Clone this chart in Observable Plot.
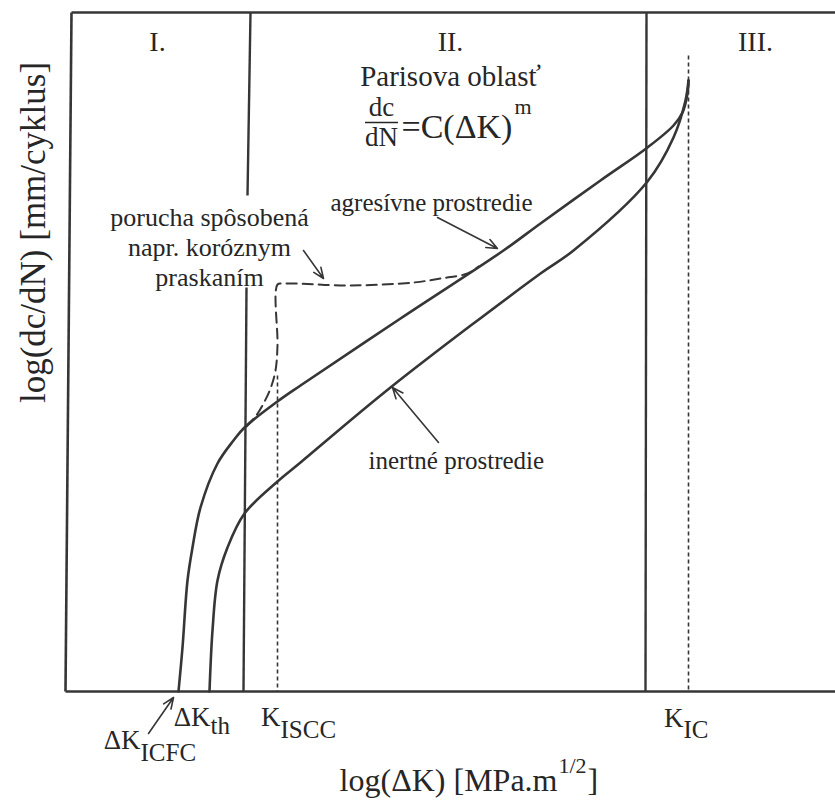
<!DOCTYPE html>
<html><head><meta charset="utf-8">
<script src="https://cdn.jsdelivr.net/npm/d3@7"></script>
<script src="https://cdn.jsdelivr.net/npm/@observablehq/plot@0.6"></script>
<style>html,body{margin:0;padding:0;background:#fff;} #chart svg{display:block}</style>
</head><body><div id="chart"></div>
<script>
// Schematic units: x = log(ΔK), y = log(dc/dN) (arbitrary units, origin at axes corner)
// Curve: agresívne prostredie
const aggrX = [110,114,119,124,132,149,165,176,209,232,332,435,472,532,579,605,614,619,620];
const aggrY = [0,44,111,144,184,228,251,264,290,306,373,441,468,511,544,566,579,598,611];
// Curve: inertné prostredie
const inertX = [141,144,149,159,176,209,232,322,472,505,579,605,617,620];
const inertY = [0,61,111,144,178,210,229,304,418,441,510,554,591,611];
// Dashed: porucha spôsobená koróznym praskaním
const corrX = [178,187,195,202,207,209,209,215,282,345,372,399,410];
const corrY = [265,275,288,303,321,346,407,408,406,409,413,418,425];

// Frame (axes box)
const frameX1 = [3,3,-3];
const frameY1 = [679,679,0];
const frameX2 = [767,-3,767];
const frameY2 = [679,0,0];
// Region boundaries (I/II, II/III)
const boundX1 = [182,178,578];
const boundY1 = [679,404,679];
const boundX2 = [179,175,577];
const boundY2 = [496,0,0];
// Characteristic values: K_ISCC, K_IC (dashed verticals)
const critX = [209,620];
const critTop = [316,636];

// Region labels
const regionLabels = ["I.","II.","III."];
const regionX = [89,382,687];
const regionY = [641,641,641];

// Tick labels (main part + subscript)
const tickMain = ["ΔK","ΔK","K","K"];
const tickSub = ["ICFC","th","ISCC","IC"];
const tickX = [72,142,212,615];
const tickY = [-57,-34,-34,-35];
const tickSubY = [-69,-42,-46,-46];

// Annotations
const noteText = ["agresívne prostredie","inertné prostredie"];
const noteX = [262,300];
const noteY = [481,223];
const poruchaLines = ["porucha spôsobená","napr. koróznym","praskaním"];
const poruchaX = [141,141,141];
const poruchaY = [466,436,406];

// Arrows: agresívne, porucha, inertné, ΔK_ICFC
const arrX1 = [369,235,370,80];
const arrY1 = [474,441,249,-42];
const arrX2 = [429,255,324,105];
const arrY2 = [443,413,304,-6];

const ink = "#363636";
const textInk = "#262626";
const idx = n => d3.range(n);

const chart = Plot.plot({
  width: 835,
  height: 801,
  margin: 0,
  x: {domain: [-68, 767], axis: null},
  y: {domain: [-110, 691], axis: null},
  style: {fontFamily: "'Liberation Serif', 'Times New Roman', serif", background: "#fff", color: textInk},
  marks: [
    Plot.link(idx(3), {x1: frameX1, y1: frameY1, x2: frameX2, y2: frameY2, stroke: ink, strokeWidth: 2.6}),
    Plot.link(idx(3), {x1: boundX1, y1: boundY1, x2: boundX2, y2: boundY2, stroke: ink, strokeWidth: 2.4}),
    Plot.link(idx(2), {x1: critX, y1: critTop, x2: critX, y2: [0,0], stroke: ink, strokeWidth: 1.6, strokeDasharray: "4,3"}),
    Plot.line(idx(corrX.length), {x: corrX, y: corrY, curve: "catmull-rom", stroke: ink, strokeWidth: 2, strokeDasharray: "10,6"}),
    Plot.line(idx(aggrX.length), {x: aggrX, y: aggrY, curve: "catmull-rom", stroke: ink, strokeWidth: 2.6}),
    Plot.line(idx(inertX.length), {x: inertX, y: inertY, curve: "catmull-rom", stroke: ink, strokeWidth: 2.6}),
    Plot.arrow(idx(4), {x1: arrX1, y1: arrY1, x2: arrX2, y2: arrY2, stroke: ink, strokeWidth: 1.6, headLength: 11, headAngle: 45}),
    // region labels
    Plot.text(idx(3), {x: regionX, y: regionY, text: regionLabels, fontSize: 28, lineAnchor: "bottom", textAnchor: "middle", fill: textInk}),
    // Paris law
    Plot.text(["Parisova oblasť"], {x: 382, y: 606, text: d => d, fontSize: 29, lineAnchor: "bottom", fill: textInk}),
    Plot.text(["dc","dN"], {x: 313, y: [576,546], text: d => d, fontSize: 27, lineAnchor: "bottom", fill: textInk}),
    Plot.ruleY([569], {x1: 297, x2: 330, stroke: textInk, strokeWidth: 1.5}),
    Plot.text(["=C(ΔK)"], {x: 333, y: 554, text: d => d, fontSize: 34, lineAnchor: "bottom", textAnchor: "start", fill: textInk}),
    Plot.text(["m"], {x: 446, y: 578, text: d => d, fontSize: 22, lineAnchor: "bottom", textAnchor: "start", fill: textInk}),
    // annotations
    Plot.text(idx(2), {x: noteX, y: noteY, text: noteText, fontSize: 25, lineAnchor: "bottom", textAnchor: "start", fill: textInk}),
    Plot.text(idx(3), {x: poruchaX, y: poruchaY, text: poruchaLines, fontSize: 26, lineAnchor: "bottom", textAnchor: "middle", fill: textInk}),
    // tick labels
    Plot.text(idx(4), {x: tickX, y: tickY, text: tickMain, fontSize: 27, lineAnchor: "bottom", textAnchor: "end", fill: textInk}),
    Plot.text(idx(4), {x: tickX, y: tickSubY, text: tickSub, fontSize: 25, lineAnchor: "bottom", textAnchor: "start", fill: textInk}),
    // axis labels
    Plot.text(["log(ΔK) [MPa.m"], {x: 489, y: -99, text: d => d, fontSize: 32, lineAnchor: "bottom", textAnchor: "end", fill: textInk}),
    Plot.text(["1/2"], {x: 490, y: -81, text: d => d, fontSize: 22, lineAnchor: "bottom", textAnchor: "start", fill: textInk}),
    Plot.text(["]"], {x: 519, y: -99, text: d => d, fontSize: 32, lineAnchor: "bottom", textAnchor: "start", fill: textInk}),
    Plot.text(["log(dc/dN) [mm/cyklus]"], {x: -35, y: 459, text: d => d, fontSize: 35, rotate: -90, textAnchor: "middle", fill: textInk})
  ]
});
document.getElementById("chart").append(chart);
</script>
</body></html>
